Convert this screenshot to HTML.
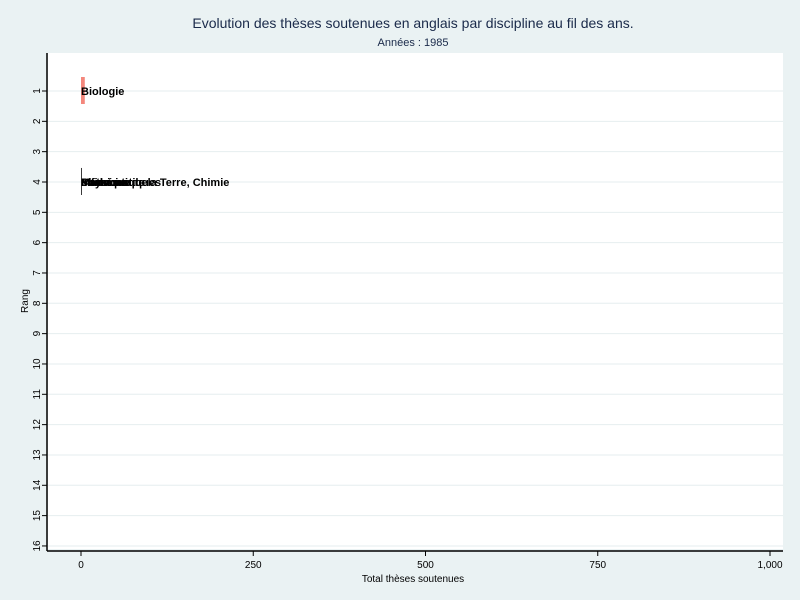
<!DOCTYPE html>
<html><head><meta charset="utf-8"><style>
body{margin:0;background:#eaf2f3;font-family:"Liberation Sans",sans-serif}
svg{display:block}
</style></head><body>
<svg width="800" height="600" xmlns="http://www.w3.org/2000/svg">
<rect x="0" y="0" width="800" height="600" fill="#eaf2f3"/>
<text x="413" y="28" text-anchor="middle" font-size="14" fill="#1a2a4a">Evolution des thèses soutenues en anglais par discipline au fil des ans.</text>
<text x="413" y="46" text-anchor="middle" font-size="11" fill="#1a2a4a">Années : 1985</text>
<rect x="48" y="53" width="735" height="496" fill="#fff"/>
<g id="grid"></g><g id="bars"></g><g id="axes"></g>
<text x="413" y="582" text-anchor="middle" font-size="10" fill="#000">Total thèses soutenues</text>
<text transform="translate(28,301) rotate(-90)" text-anchor="middle" font-size="10" fill="#000">Rang</text>
</svg>
<script>
const categories=["Biologie","Mathématiques","Informatique","Médecine","Physique","Sciences de la Terre, Chimie"];
const values=[5.5,1,1,1,1,1];
const ranks=[1,4,4,4,4,4];
const colors=["#f4877c","#c0508a","#6a6a6a","#8a6a4a","#5a7aa0","#3a3a3a"];
const xTicks=[0,250,500,750,1000];
const xTickLabels=["0","250","500","750","1,000"];
const yTicks=[1,2,3,4,5,6,7,8,9,10,11,12,13,14,15,16];
const NS="http://www.w3.org/2000/svg";
const xs=v=>81+v*0.689;
const ys=r=>91+(r-1)*30.33;
function mk(t,a,p){const e=document.createElementNS(NS,t);for(const k in a)e.setAttribute(k,a[k]);p.appendChild(e);return e;}
const grid=document.getElementById('grid'),bars=document.getElementById('bars'),axes=document.getElementById('axes');
yTicks.forEach(r=>{
 const l=mk('line',{x1:48,x2:783,y1:ys(r),y2:ys(r),stroke:'#e6eeef','stroke-width':1},grid);
 
 
 const t=mk('line',{x1:42,x2:47,y1:ys(r),y2:ys(r),stroke:'#000'},axes);
 
 
 const tx=mk('text',{transform:`translate(40,${ys(r)}) rotate(-90)`,'text-anchor':'middle','font-size':10,fill:'#000'},axes);
 tx.textContent=r;
 
 
});
xTicks.forEach((v,i)=>{
 const t=mk('line',{x1:xs(v),x2:xs(v),y1:551,y2:556,stroke:'#000'},axes);
 
 
 const tx=mk('text',{x:xs(v),y:568,'text-anchor':'middle','font-size':10,fill:'#000'},axes);
 tx.textContent=xTickLabels[i];
 
 
});
const ax=mk('line',{x1:47,x2:47,y1:53,y2:551,stroke:'#000','stroke-width':1.5},axes);


const bx=mk('line',{x1:47,x2:783,y1:551,y2:551,stroke:'#000','stroke-width':1.5},axes);


categories.forEach((c,i)=>{
 const w=Math.max(1,xs(values[i])-xs(0));
 const b=mk('rect',{x:xs(0),y:ys(ranks[i])-14,width:w,height:27,fill:colors[i]},bars);
 
 
});
categories.forEach((c,i)=>{
 const t=mk('text',{x:xs(0),y:ys(ranks[i])+4,'font-size':11,fill:'#000','font-weight':'bold'},bars);
 t.textContent=c;
 
 
});
</script>
</body></html>
